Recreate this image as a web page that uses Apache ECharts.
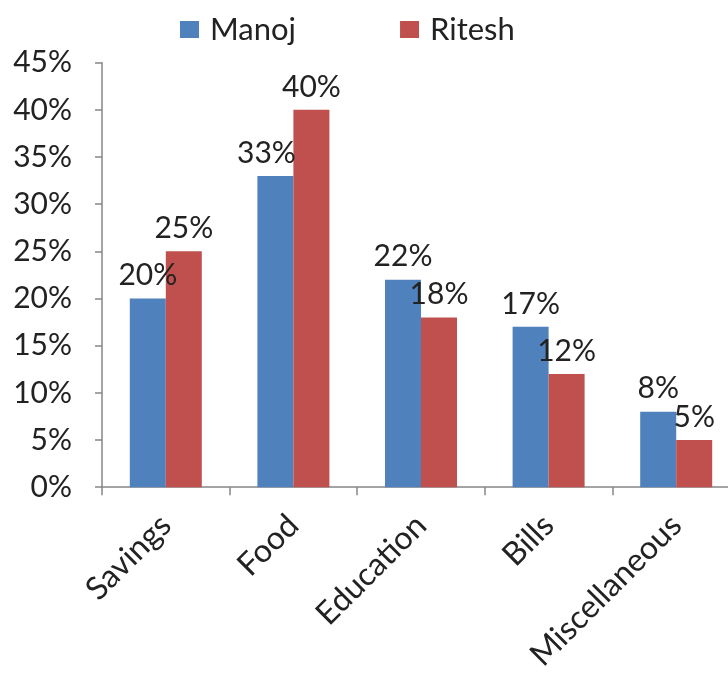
<!DOCTYPE html>
<html><head><meta charset="utf-8">
<script src="https://cdn.jsdelivr.net/npm/echarts@6/dist/echarts.min.js"></script>
<style>html,body{margin:0;padding:0;background:#fff;overflow:hidden}#c{width:745px;height:674px}</style>
</head><body><div id="c"></div>
<script>
var categories = ['Savings', 'Food', 'Education', 'Bills', 'Miscellaneous'];
var manoj = [20, 33, 22, 17, 8];
var ritesh = [25, 40, 18, 12, 5];
var yTicks = [0, 5, 10, 15, 20, 25, 30, 35, 40, 45];

var FONT = "Lato,'Noto Sans',sans-serif";
var axisColor = '#868686';
// label nudge (Excel moved the Food/Manoj label left to avoid the taller neighbour)
var manojLabelShift = [0, -9, 0, 0, 0];
var manojData = manoj.map(function(v, i){
  return {value: v, label: {offset: [manojLabelShift[i], 0]}};
});
var chart = echarts.init(document.getElementById('c'));
chart.setOption({
  animation: false,
  textStyle: {fontFamily: FONT},
  legend: {
    top: 9, left: 175,
    itemWidth: 19, itemHeight: 17, itemGap: 104,
    icon: 'rect',
    textStyle: {fontSize: 31, color: '#222', fontFamily: FONT, padding: [0, 0, 0, 6]},
    data: ['Manoj', 'Ritesh']
  },
  grid: {left: 102, right: 5, top: 62.7, bottom: 184, containLabel: false},
  xAxis: {
    type: 'category', data: categories,
    axisLine: {lineStyle: {color: axisColor, width: 1.5}},
    axisTick: {show: true, length: 8, alignWithLabel: false, lineStyle: {color: axisColor, width: 1.5}},
    axisLabel: {rotate: 45, fontSize: 32, color: '#222', fontFamily: FONT, margin: 33, interval: 0,
      padding: [34, 0, 0, 0]}
  },
  yAxis: {
    type: 'value', min: 0, max: 45, interval: 5,
    axisLine: {show: true, lineStyle: {color: axisColor, width: 1.5}},
    axisTick: {show: true, length: 7, lineStyle: {color: axisColor, width: 1.5}},
    splitLine: {show: false},
    axisLabel: {fontSize: 30, color: '#222', fontFamily: FONT, margin: 30,
      formatter: function(v){ return v + '%'; }}
  },
  series: [
    {name: 'Manoj', type: 'bar', data: manojData, barWidth: 36, barGap: '0%',
     itemStyle: {color: '#4F81BD'},
     label: {show: true, position: 'top', distance: 8, fontSize: 30, color: '#222', fontFamily: FONT,
       formatter: function(p){ return p.value + '%'; }}},
    {name: 'Ritesh', type: 'bar', data: ritesh, barWidth: 36, barGap: '0%',
     itemStyle: {color: '#C0504D'},
     label: {show: true, position: 'top', distance: 8, fontSize: 30, color: '#222', fontFamily: FONT,
       formatter: function(p){ return p.value + '%'; }}}
  ]
});
</script></body></html>
